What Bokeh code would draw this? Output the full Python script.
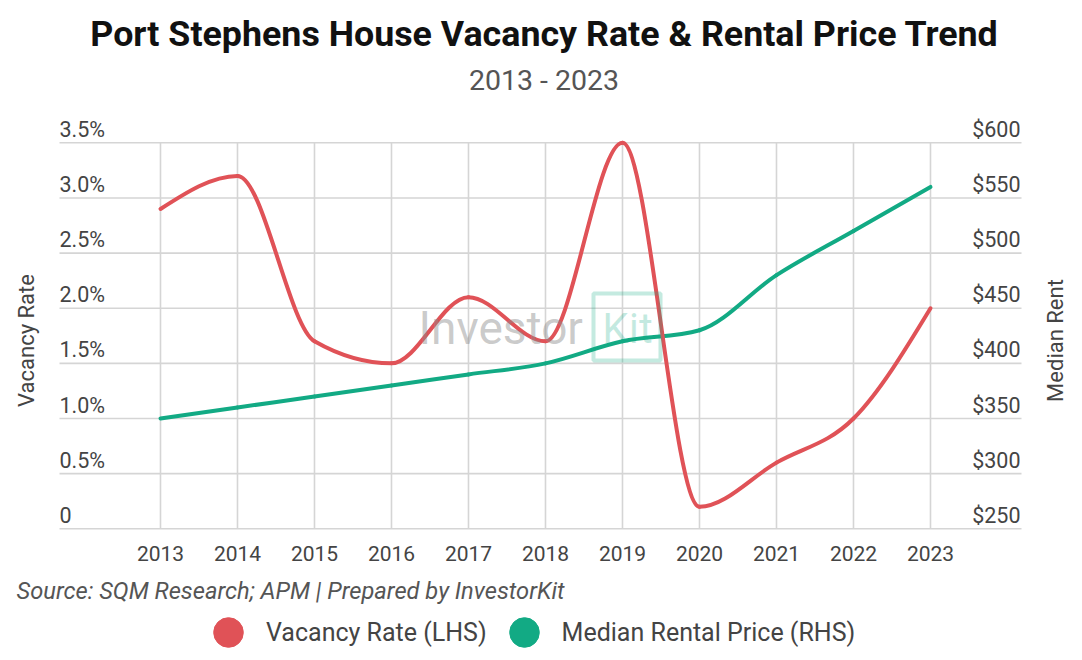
import math

import numpy as np
from bokeh.core.properties import value
from bokeh.embed import file_html
from bokeh.models import (BoxAnnotation, ColumnDataSource, Label, LabelSet,
                          Legend, LegendItem, Range1d)
from bokeh.plotting import figure
from bokeh.resources import INLINE

# ---------------------------------------------------------------- data
YEARS = [2013, 2014, 2015, 2016, 2017, 2018, 2019, 2020, 2021, 2022, 2023]
VACANCY = [2.9, 3.2, 1.7, 1.5, 2.1, 1.7, 3.5, 0.2, 0.6, 1.0, 2.0]          # %
RENT = [350, 360, 370, 380, 390, 400, 420, 430, 480, 520, 560]            # $/week

YEAR_LABELS = [str(y) for y in YEARS]
VAC_TICKS = [0, 0.5, 1.0, 1.5, 2.0, 2.5, 3.0, 3.5]
VAC_LABELS = ["0", "0.5%", "1.0%", "1.5%", "2.0%", "2.5%", "3.0%", "3.5%"]
RENT_TICKS = [250, 300, 350, 400, 450, 500, 550, 600]
RENT_LABELS = ["$250", "$300", "$350", "$400", "$450", "$500", "$550", "$600"]

TITLE = "Port Stephens House Vacancy Rate & Rental Price Trend"
SUBTITLE = "2013 - 2023"
SOURCE = "Source: SQM Research; APM | Prepared by InvestorKit"
LEFT_TITLE = "Vacancy Rate"
RIGHT_TITLE = "Median Rent"
SERIES_NAMES = ["Vacancy Rate (LHS)", "Median Rental Price (RHS)"]

# ---------------------------------------------------------------- style
RED = "#E05257"
GREEN = "#12AA84"
GRID = "#d5d5d5"
TEXT = "#444444"
FONT = "Roboto"

W, H = 1082, 660

# Plot area inside the canvas (px from the top-left corner)
AREA_LEFT, AREA_RIGHT = 59.0, 1021.0
AREA_TOP, AREA_BOTTOM = 142.3, 528.3
FIRST_YEAR_PX = 160.0          # x of the first year
YEAR_PX = 77.0                 # px per year

# canvas-wide scales, so that titles, notes and legend share the frame
X_START = YEARS[0] - FIRST_YEAR_PX / YEAR_PX
X_END = X_START + W / YEAR_PX
vac_px = (AREA_BOTTOM - AREA_TOP) / (VAC_TICKS[-1] - VAC_TICKS[0])
rent_px = (AREA_BOTTOM - AREA_TOP) / (RENT_TICKS[-1] - RENT_TICKS[0])
VAC_START = VAC_TICKS[0] - (H - AREA_BOTTOM) / vac_px
VAC_END = VAC_TICKS[-1] + AREA_TOP / vac_px
RENT_START = RENT_TICKS[0] - (H - AREA_BOTTOM) / rent_px
RENT_END = RENT_TICKS[-1] + AREA_TOP / rent_px

AREA_X0 = X_START + AREA_LEFT / YEAR_PX
AREA_X1 = X_START + AREA_RIGHT / YEAR_PX


def sx(px):
    """Horizontal screen offset for annotations."""
    return px


def sy(px):
    """Vertical screen offset for annotations (measured upward from the bottom)."""
    return H - px


def monotone_segments(xs, ys):
    """Cubic Bezier segments of a monotone-x curve through the points."""
    x = np.asarray(xs, dtype=float)
    y = np.asarray(ys, dtype=float)
    h = np.diff(x)
    s = np.diff(y) / h
    n = len(x)
    t = np.zeros(n)

    def sgn(v):
        return -1.0 if v < 0 else 1.0

    for i in range(1, n - 1):
        p = (s[i - 1] * h[i] + s[i] * h[i - 1]) / (h[i - 1] + h[i])
        t[i] = (sgn(s[i - 1]) + sgn(s[i])) * min(abs(s[i - 1]), abs(s[i]), 0.5 * abs(p))
    t[0] = (3 * s[0] - t[1]) / 2
    t[-1] = (3 * s[-1] - t[-2]) / 2
    dx = h / 3
    return dict(
        x0=x[:-1], y0=y[:-1], x1=x[1:], y1=y[1:],
        cx0=x[:-1] + dx, cy0=y[:-1] + dx * t[:-1],
        cx1=x[1:] - dx, cy1=y[1:] - dx * t[1:],
    )


p = figure(
    width=W, height=H,
    x_range=Range1d(X_START, X_END),
    y_range=Range1d(VAC_START, VAC_END),
    x_axis_location=None, y_axis_location=None,
    output_backend="svg", toolbar_location=None,
    min_border=0,
)
p.extra_y_ranges = {"rent": Range1d(RENT_START, RENT_END)}
p.outline_line_color = None
p.background_fill_color = "white"
p.border_fill_color = "white"
p.grid.visible = False

# grid lines limited to the plot area
p.segment(x0=[AREA_X0] * len(VAC_TICKS), x1=[AREA_X1] * len(VAC_TICKS),
          y0=VAC_TICKS, y1=VAC_TICKS, line_color=GRID, line_width=1.6)
p.segment(x0=YEARS, x1=YEARS, y0=[VAC_TICKS[0]] * len(YEARS), y1=[VAC_TICKS[-1]] * len(YEARS),
          line_color=GRID, line_width=1.6)

# tick labels
year_src = ColumnDataSource(dict(x=YEARS, y=[VAC_TICKS[0]] * len(YEARS), text=YEAR_LABELS))
left_src = ColumnDataSource(dict(x=[AREA_X0] * len(VAC_TICKS), y=VAC_TICKS, text=VAC_LABELS))
right_src = ColumnDataSource(dict(x=[AREA_X1] * len(RENT_TICKS), y=RENT_TICKS, text=RENT_LABELS))
p.add_layout(LabelSet(x="x", y="y", text="text", source=year_src, y_offset=-32,
                      text_align="center", text_baseline="alphabetic",
                      text_font=value(FONT), text_font_size="21px", text_color=TEXT))
p.add_layout(LabelSet(x="x", y="y", text="text", source=left_src, y_offset=6,
                      text_align="left", text_baseline="alphabetic",
                      text_font=value(FONT), text_font_size="21.5px", text_color=TEXT))
p.add_layout(LabelSet(x="x", y="y", text="text", source=right_src, y_range_name="rent",
                      x_offset=-1, y_offset=6,
                      text_align="right", text_baseline="alphabetic",
                      text_font=value(FONT), text_font_size="21.5px", text_color=TEXT))

# series
rent_seg = ColumnDataSource(monotone_segments(YEARS, RENT))
vac_seg = ColumnDataSource(monotone_segments(YEARS, VACANCY))
p.bezier(x0="x0", y0="y0", x1="x1", y1="y1", cx0="cx0", cy0="cy0", cx1="cx1", cy1="cy1",
         source=rent_seg, y_range_name="rent", line_color=GREEN, line_width=4, line_cap="round")
p.bezier(x0="x0", y0="y0", x1="x1", y1="y1", cx0="cx0", cy0="cy0", cx1="cx1", cy1="cy1",
         source=vac_seg, line_color=RED, line_width=4, line_cap="round")

# point markers only used as legend keys
vac_pts = p.scatter(YEARS, VACANCY, marker="circle", size=8, fill_color=RED, line_color=RED, visible=False)
rent_pts = p.scatter(YEARS, RENT, marker="circle", size=8, fill_color=GREEN, line_color=GREEN,
                     y_range_name="rent", visible=False)

legend = Legend(
    items=[LegendItem(label=SERIES_NAMES[0], renderers=[vac_pts]),
           LegendItem(label=SERIES_NAMES[1], renderers=[rent_pts])],
    orientation="horizontal", location=(sx(191), sy(672)),
    glyph_width=74, glyph_height=80, label_standoff=1, spacing=0,
    padding=0, margin=0, border_line_alpha=0, background_fill_alpha=0,
    label_text_font=FONT, label_text_font_size="25px", label_text_color=TEXT,
)
p.add_layout(legend)

# titles and notes (vertically centred on the cap height)
p.add_layout(Label(x=sx(544), y=sy(33), x_units="screen", y_units="screen", text=TITLE,
                   text_align="center", text_baseline="middle",
                   text_font=FONT, text_font_style="bold", text_font_size="35.8px",
                   text_color="#111111"))
p.add_layout(Label(x=sx(543.5), y=sy(80), x_units="screen", y_units="screen", text=SUBTITLE,
                   text_align="center", text_baseline="middle",
                   text_font=FONT, text_font_size="28.5px", text_color="#555555"))
p.add_layout(Label(x=sx(16), y=sy(590), x_units="screen", y_units="screen", text=SOURCE,
                   text_align="left", text_baseline="middle",
                   text_font=FONT, text_font_style="italic", text_font_size="23.7px",
                   text_color="#555555"))
p.add_layout(Label(x=sx(26), y=sy(340), x_units="screen", y_units="screen", text=LEFT_TITLE,
                   angle=math.pi / 2, text_align="center", text_baseline="middle",
                   text_font=FONT, text_font_size="22px", text_color=TEXT))
p.add_layout(Label(x=sx(1054.5), y=sy(340), x_units="screen", y_units="screen", text=RIGHT_TITLE,
                   angle=math.pi / 2, text_align="center", text_baseline="middle",
                   text_font=FONT, text_font_size="22px", text_color=TEXT))

# brand watermark
p.add_layout(Label(x=sx(418), y=sy(327.5), x_units="screen", y_units="screen", text="Investor",
                   text_align="left", text_baseline="middle",
                   text_font=FONT, text_font_size="46px", text_color="#8a8a8a", text_alpha=0.45))
p.add_layout(BoxAnnotation(left=sx(593), right=sx(660), bottom=sy(360), top=sy(293),
                           left_units="screen", right_units="screen",
                           bottom_units="screen", top_units="screen",
                           fill_alpha=0, line_color=GREEN, line_alpha=0.25, line_width=4))
p.add_layout(Label(x=sx(627), y=sy(327.5), x_units="screen", y_units="screen", text="Kit",
                   text_align="center", text_baseline="middle",
                   text_font=FONT, text_font_size="42px", text_color=GREEN, text_alpha=0.25))

open("out.html", "w").write(file_html(p, INLINE))
